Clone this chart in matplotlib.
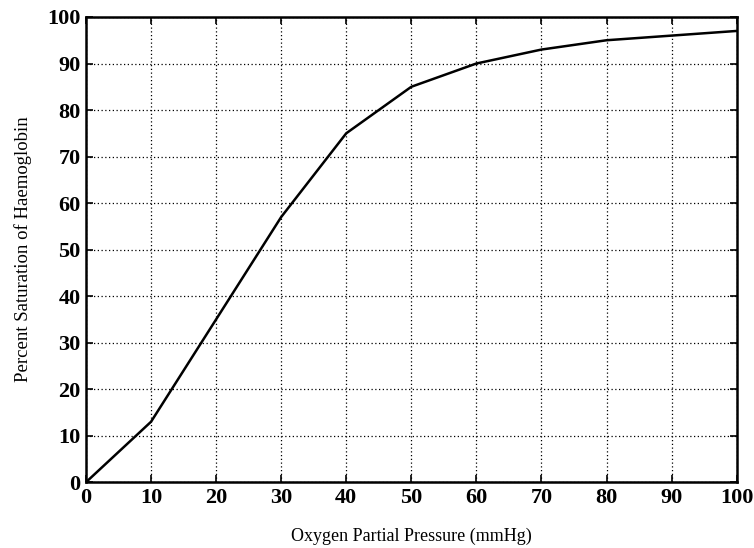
import matplotlib
matplotlib.use("Agg")
import matplotlib.pyplot as plt

# Oxygen dissociation curve values
pressure = [0, 10, 20, 30, 40, 50, 60, 70, 80, 90, 100]
saturation = [0, 13, 35, 57, 75, 85, 90, 93, 95, 96, 97]

x_ticks = list(range(0, 101, 10))
y_ticks = list(range(0, 101, 10))

plt.rcParams['font.family'] = ['Liberation Serif', 'DejaVu Serif']

fig = plt.figure(figsize=(7.54, 5.48), dpi=100)
ax = fig.add_axes([0.114, 0.120, 0.863, 0.849])

ax.plot(pressure, saturation, color="black", linewidth=1.8)

ax.set_xlim(0, 100)
ax.set_ylim(0, 100)
ax.set_xticks(x_ticks)
ax.set_yticks(y_ticks)
ax.tick_params(direction="in", top=True, right=True, length=5, width=1.2,
               labelsize=16, pad=4)
for lab in ax.get_xticklabels() + ax.get_yticklabels():
    lab.set_fontweight("bold")

ax.grid(True, color="black", linestyle=(0, (1, 2)), linewidth=0.9)
for s in ax.spines.values():
    s.set_linewidth(1.8)

ax.set_xlabel("Oxygen Partial Pressure (mmHg)", fontsize=13, labelpad=14)
ax.set_ylabel("Percent Saturation of Haemoglobin", fontsize=13.5, labelpad=11)

fig.savefig("out.png", dpi=100)
